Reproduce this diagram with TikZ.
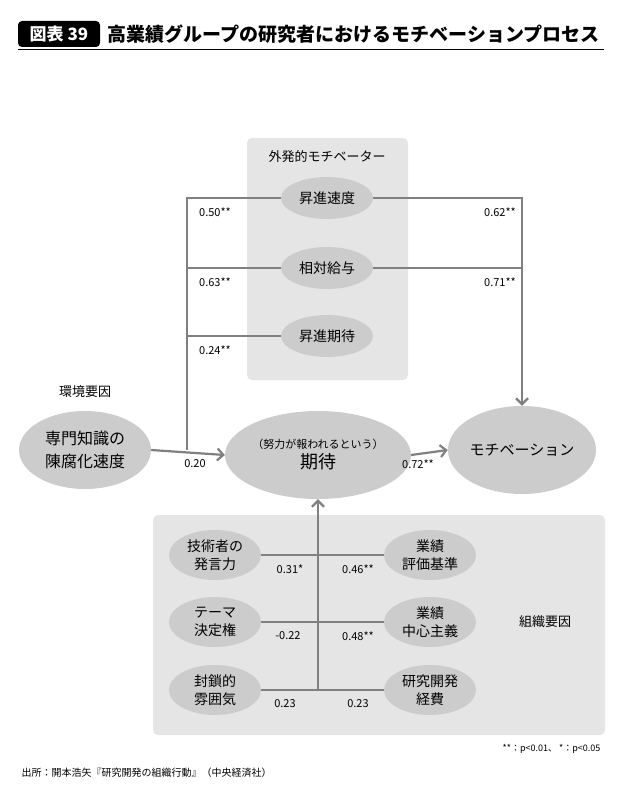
\documentclass[tikz,border=0pt]{standalone}
\usepackage{fontspec}
\setmainfont{Noto Sans CJK JP}
\usetikzlibrary{arrows.meta,shapes.geometric}
\begin{document}
\begin{tikzpicture}[x=1pt,y=-1pt,
  ell/.style={ellipse,fill=black!20,inner sep=0pt,align=center,font=\fontsize{14}{18}\selectfont},
  ln/.style={draw=black!50,line width=2.2pt},
  arr/.style={ln,-{Straight Barb[length=6pt,width=12pt]}},
  coef/.style={font=\fontsize{11}{13}\selectfont},
  box/.style={fill=black!10,rounded corners=5pt}]
\useasboundingbox (0,0) rectangle (622,800);
\fill[white] (0,0) rectangle (622,800);
% title
\node[fill=black,rounded corners=4pt,text=white,font=\fontsize{17}{20}\selectfont\bfseries,minimum width=82,minimum height=26] (tag) at (59,34) {図表 39};
\node[anchor=west,font=\fontsize{19}{22}\selectfont\bfseries] (title) at (104,34) {高業績グループの研究者におけるモチベーションプロセス};
\draw[line width=1pt] (18,50) -- (604,50);
% boxes
\fill[box] (247,138) rectangle (408,380);
\fill[box] (153,515) rectangle (605,735);
\node[font=\fontsize{13}{15}\selectfont] (ext) at (327,157) {外発的モチベーター};
\node[ell,minimum width=92,minimum height=42] (e1) at (327,198) {昇進速度};
\node[ell,minimum width=92,minimum height=42] (e2) at (327,268) {相対給与};
\node[ell,minimum width=92,minimum height=42] (e3) at (327,336) {昇進期待};
\node[font=\fontsize{13}{15}\selectfont] (env) at (85,392) {環境要因};
\node[ell,minimum width=132,minimum height=78,font=\fontsize{16}{23}\selectfont] (sp) at (85,450) {専門知識の\\陳腐化速度};
\node[ell,minimum width=122,minimum height=88] (ex) at (318,455) {{\fontsize{11}{13}\selectfont（努力が報われるという）}\\[2pt]{\fontsize{18}{21}\selectfont 期待}};
\node[ell,minimum width=124,minimum height=88,font=\fontsize{15}{18}\selectfont] (mo) at (522,450) {モチベーション};
% top paths
\coordinate (L1) at (187,198); \coordinate (L2) at (187,268); \coordinate (L3) at (187,336);
\coordinate (L0) at (187,450);
\coordinate (R1) at (522,198); \coordinate (R2) at (522,268);
\draw[ln] (L0) -- (L1) -- (e1.west);
\draw[ln] (L2) -- (e2.west);
\draw[ln] (L3) -- (e3.west);
\draw[ln] (e1.east) -- (R1) -- (R2);
\draw[ln] (e2.east) -- (R2);
\draw[arr] (R2) -- (mo.north);
\draw[arr] (sp.east) -- (ex.west);
\draw[arr] (ex.east) -- (mo.west);
\node[coef] (c1) at (215,212) {0.50**};
\node[coef] (c2) at (215,282) {0.63**};
\node[coef] (c3) at (215,350) {0.24**};
\node[coef] (c4) at (500,212) {0.62**};
\node[coef] (c5) at (500,282) {0.71**};
\node[coef] (c6) at (195,464) {0.20};
\node[coef] (c7) at (418,464) {0.72**};
% bottom
\node[ell,minimum width=92,minimum height=50] (b1) at (215,555) {技術者の\\発言力};
\node[ell,minimum width=92,minimum height=50] (b2) at (215,622) {テーマ\\決定権};
\node[ell,minimum width=92,minimum height=50] (b3) at (215,690) {封鎖的\\雰囲気};
\node[ell,minimum width=92,minimum height=50] (d1) at (430,555) {業績\\評価基準};
\node[ell,minimum width=92,minimum height=50] (d2) at (430,622) {業績\\中心主義};
\node[ell,minimum width=92,minimum height=50] (d3) at (430,690) {研究開発\\経費};
\coordinate (V) at (318,690);
\draw[ln] (b1.east) -- (d1.west);
\draw[ln] (b2.east) -- (d2.west);
\draw[ln] (b3.east) -- (d3.west);
\draw[arr] (V) -- (ex.south);
\node[coef] (k1) at (290,569) {0.31*};
\node[coef] (k2) at (358,569) {0.46**};
\node[coef] (k3) at (288,636) {-0.22};
\node[coef] (k4) at (358,636) {0.48**};
\node[coef] (k5) at (285,704) {0.23};
\node[coef] (k6) at (358,704) {0.23};
\node[font=\fontsize{13}{15}\selectfont] (org) at (545,622) {組織要因};
\node[anchor=east,font=\fontsize{9}{11}\selectfont] (note) at (604,749) {**：p<0.01、 *：p<0.05};
\node[anchor=west,font=\fontsize{10}{12}\selectfont] (src) at (18,773) {出所：開本浩矢『研究開発の組織行動』（中央経済社）};
\end{tikzpicture}
\end{document}
